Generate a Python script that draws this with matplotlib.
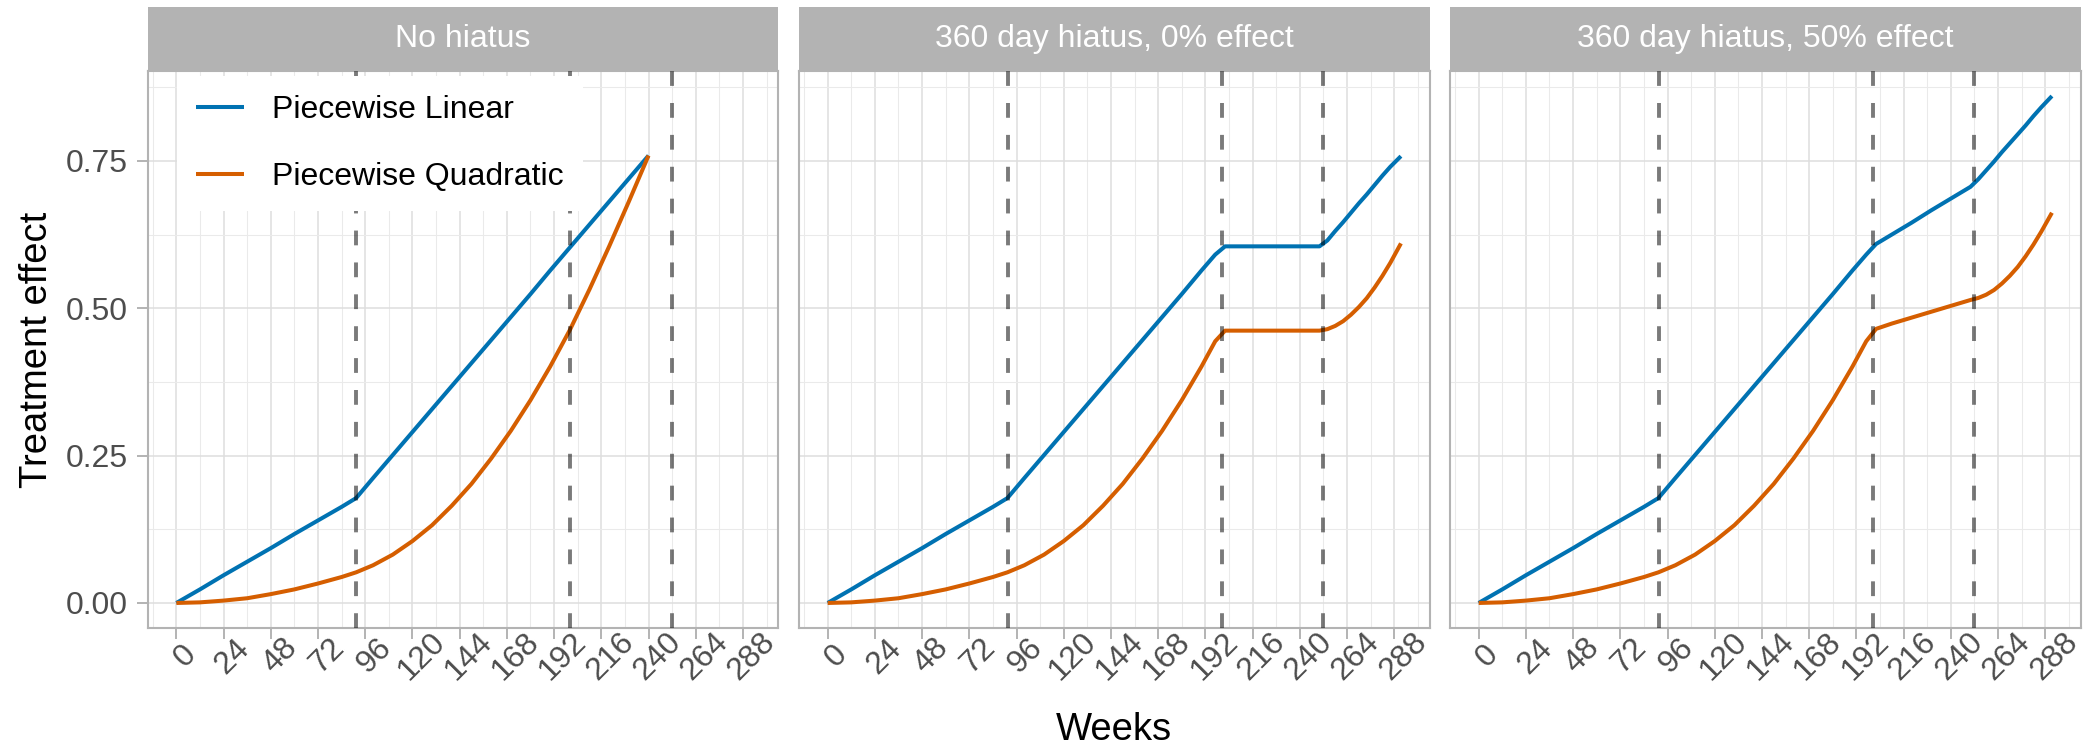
import matplotlib
matplotlib.use("Agg")
import matplotlib.pyplot as plt
from matplotlib.ticker import MultipleLocator, FixedLocator
from matplotlib.transforms import ScaledTranslation

plt.rcParams['font.family'] = ['Liberation Sans', 'DejaVu Sans']

# ---------------- data ----------------
panel_titles = ["No hiatus", "360 day hiatus, 0% effect", "360 day hiatus, 50% effect"]
series_names = ["Piecewise Linear", "Piecewise Quadratic"]
knot_weeks = [91.5, 200.3, 252.0]
x_ticks = [0, 24, 48, 72, 96, 120, 144, 168, 192, 216, 240, 264, 288]
y_ticks = [0.00, 0.25, 0.50, 0.75]
y_tick_labels = ["0.00", "0.25", "0.50", "0.75"]

weeks_no_hiatus = [0, 12, 24, 36, 48, 60, 72, 84, 91.4, 100, 110, 120, 130, 140,
                   150, 160, 170, 180, 190, 200, 210, 220, 230, 240]
linear_no_hiatus = [0, 0.023, 0.047, 0.070, 0.093, 0.117, 0.140, 0.163, 0.178, 0.212,
                    0.251, 0.290, 0.329, 0.368, 0.407, 0.446, 0.485, 0.524, 0.564,
                    0.603, 0.642, 0.681, 0.720, 0.759]
quad_no_hiatus = [0, 0.001, 0.004, 0.008, 0.015, 0.023, 0.033, 0.044, 0.052, 0.064,
                  0.082, 0.105, 0.132, 0.165, 0.202, 0.245, 0.292, 0.344, 0.401,
                  0.463, 0.532, 0.605, 0.681, 0.759]

weeks_hiatus = [0, 12, 24, 36, 48, 60, 72, 84, 91.4, 100, 110, 120, 130, 140, 150,
                160, 170, 180, 190, 197, 202, 210, 220, 230, 240, 250, 254, 258,
                262, 266, 270, 274, 278, 282, 286, 291.4]
linear_hiatus0 = [0, 0.023, 0.047, 0.070, 0.093, 0.117, 0.140, 0.163, 0.178, 0.212,
                  0.251, 0.290, 0.329, 0.368, 0.407, 0.446, 0.485, 0.524, 0.564,
                  0.591, 0.605, 0.605, 0.605, 0.605, 0.605, 0.605, 0.615, 0.631,
                  0.646, 0.662, 0.678, 0.693, 0.709, 0.725, 0.740, 0.758]
quad_hiatus0 = [0, 0.001, 0.004, 0.008, 0.015, 0.023, 0.033, 0.044, 0.052, 0.064,
                0.082, 0.105, 0.132, 0.165, 0.202, 0.245, 0.292, 0.344, 0.401,
                0.444, 0.462, 0.462, 0.462, 0.462, 0.462, 0.462, 0.4645, 0.470,
                0.478, 0.489, 0.502, 0.517, 0.535, 0.555, 0.577, 0.610]
linear_hiatus50 = [0, 0.023, 0.047, 0.070, 0.093, 0.117, 0.140, 0.163, 0.178, 0.212,
                   0.251, 0.290, 0.329, 0.368, 0.407, 0.446, 0.485, 0.524, 0.564,
                   0.591, 0.609, 0.625, 0.645, 0.666, 0.686, 0.706, 0.719, 0.734,
                   0.749, 0.765, 0.780, 0.795, 0.810, 0.826, 0.841, 0.860]
quad_hiatus50 = [0, 0.001, 0.004, 0.008, 0.015, 0.023, 0.033, 0.044, 0.052, 0.064,
                 0.082, 0.105, 0.132, 0.165, 0.202, 0.245, 0.292, 0.344, 0.401,
                 0.444, 0.465, 0.474, 0.484, 0.494, 0.504, 0.514, 0.5175, 0.523,
                 0.531, 0.542, 0.555, 0.570, 0.588, 0.608, 0.630, 0.662]

panels = [
    (weeks_no_hiatus, linear_no_hiatus, quad_no_hiatus),
    (weeks_hiatus, linear_hiatus0, quad_hiatus0),
    (weeks_hiatus, linear_hiatus50, quad_hiatus50),
]

# ---------------- style ----------------
BLUE = "#0072B2"
ORANGE = "#D55E00"
GREY70 = "#B3B3B3"
GRID_MAJ = "#DEDEDE"
GRID_MIN = "#EAEAEA"
TICK_TXT = "#4D4D4D"
FS = 23

W, H = 2096, 749
fig = plt.figure(figsize=(W / 100, H / 100), dpi=100)

panel_left_px = [147.7, 799.0, 1450.0]
panel_w_px = 630.6
panel_top_px = 70.7
panel_bot_px = 628.3
strip_top_px = 7.0

xlim = (-14.57, 305.97)
ylim = (-0.043, 0.903)

axes = []
for i, (wk, lin, quad) in enumerate(panels):
    l = panel_left_px[i] / W
    b = 1 - panel_bot_px / H
    w = panel_w_px / W
    h = (panel_bot_px - panel_top_px) / H
    ax = fig.add_axes([l, b, w, h])
    axes.append(ax)
    ax.set_xlim(*xlim)
    ax.set_ylim(*ylim)
    ax.set_facecolor("white")
    ax.set_axisbelow(True)

    ax.xaxis.set_major_locator(FixedLocator(x_ticks))
    ax.xaxis.set_minor_locator(MultipleLocator(12))
    ax.yaxis.set_major_locator(FixedLocator(y_ticks))
    ax.yaxis.set_minor_locator(MultipleLocator(0.125))
    ax.grid(which="major", color=GRID_MAJ, lw=1.1)
    ax.grid(which="minor", color=GRID_MIN, lw=0.75)

    for s in ax.spines.values():
        s.set_color(GREY70)
        s.set_linewidth(1.5)

    ax.tick_params(axis="x", which="major", length=7.9, width=1.4, color=GREY70,
                   labelsize=FS, labelcolor=TICK_TXT, pad=12.2)
    ax.tick_params(axis="both", which="minor", length=0)
    ax.set_xticklabels([str(t) for t in x_ticks], rotation=45, ha="center",
                       va="center", rotation_mode="anchor")
    off = ScaledTranslation(9 / 100, 0, fig.dpi_scale_trans)
    for lab in ax.get_xticklabels():
        lab.set_transform(lab.get_transform() + off)

    if i == 0:
        ax.tick_params(axis="y", which="major", length=7.9, width=1.4, color=GREY70,
                       labelsize=FS, labelcolor=TICK_TXT, pad=6.6)
        ax.set_yticklabels(y_tick_labels)
    else:
        ax.tick_params(axis="y", which="major", length=0, labelleft=False)

    ax.plot(wk, lin, color=BLUE, lw=2.9, label=series_names[0], zorder=3,
            solid_capstyle="butt", solid_joinstyle="round")
    ax.plot(wk, quad, color=ORANGE, lw=2.9, label=series_names[1], zorder=3,
            solid_capstyle="butt", solid_joinstyle="round")
    for k in knot_weeks:
        ax.axvline(k, color="black", alpha=0.52, lw=2.8,
                   linestyle=(0, (3.8, 4.4)), zorder=4)

    # strip
    sax = fig.add_axes([l, 1 - panel_top_px / H, w, (panel_top_px - strip_top_px) / H])
    sax.set_facecolor(GREY70)
    sax.set_xticks([])
    sax.set_yticks([])
    for s in sax.spines.values():
        s.set_visible(False)
    sax.text(0.5, 0.5, panel_titles[i], color="white", fontsize=FS,
             ha="center", va="center", transform=sax.transAxes)

# legend in first panel
leg = axes[0].legend(loc="upper left",
                     bbox_to_anchor=((177 - 147.7) / panel_w_px,
                                     (panel_bot_px - 76) / (panel_bot_px - panel_top_px)),
                     borderaxespad=0, frameon=True, fancybox=False, framealpha=1,
                     facecolor="white", edgecolor="none", fontsize=FS,
                     handlelength=1.5, handletextpad=0.88, labelspacing=1.15,
                     borderpad=0.6)
leg.set_zorder(10)

fig.text(37 / W, 1 - 349.5 / H, "Treatment effect", rotation=90, fontsize=27.5,
         ha="center", va="center", color="black")
fig.text(1114 / W, 1 - 730 / H, "Weeks", fontsize=27.5, ha="center", va="center",
         color="black")

fig.savefig("out.png", dpi=100, facecolor="white")
